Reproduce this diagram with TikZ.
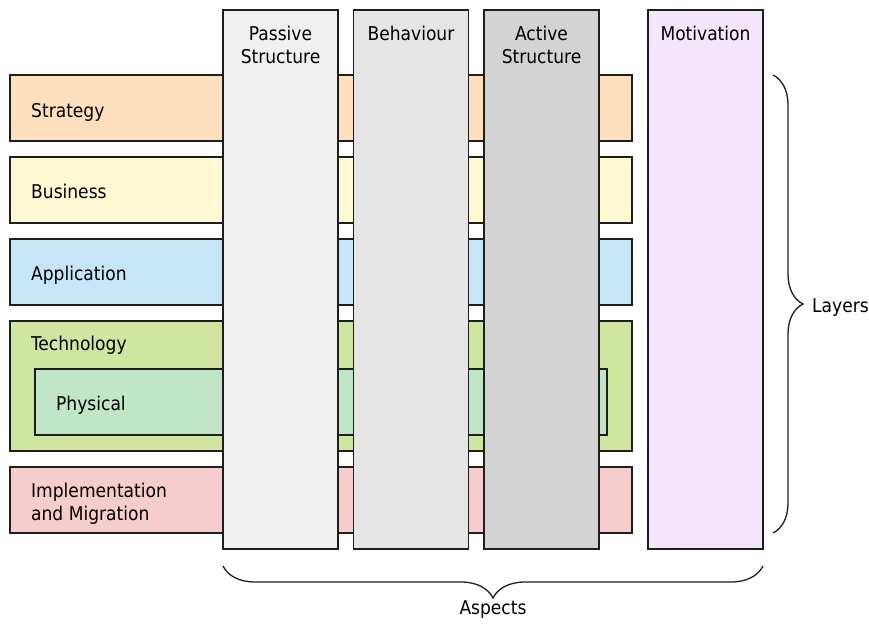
\documentclass[tikz,border=0pt]{standalone}
\usepackage{fontspec}
\setmainfont{DejaVu Sans Condensed}
\usetikzlibrary{decorations.pathreplacing}

\definecolor{edgegray}{RGB}{30,30,30}
\definecolor{strategyfill}{RGB}{253,223,189}
\definecolor{businessfill}{RGB}{255,249,211}
\definecolor{applicationfill}{RGB}{198,230,248}
\definecolor{technologyfill}{RGB}{208,230,160}
\definecolor{physicalfill}{RGB}{192,230,199}
\definecolor{implfill}{RGB}{246,204,204}
\definecolor{passivefill}{RGB}{240,240,240}
\definecolor{behaviourfill}{RGB}{229,229,229}
\definecolor{activefill}{RGB}{211,211,211}
\definecolor{motivfill}{RGB}{243,230,250}

\begin{document}
\begin{tikzpicture}
    [x=1pt, y=-1pt,
    box/.style={draw=edgegray, line width=1.3pt, anchor=north west,
      inner sep=0pt, outer sep=0pt},
    layer/.style={box, minimum width=622pt, minimum height=66pt},
    aspect/.style={box, minimum width=115pt, minimum height=539pt},
    lbl/.style={font=\fontsize{19}{23}\selectfont, inner sep=0pt,
      text=black},
    brc/.style={decorate, decoration={brace, amplitude=#1},
      line width=1.3pt, draw=edgegray}]
    \useasboundingbox (0,0) rectangle (869,625);
    \node[layer, fill=strategyfill] (strategy) at (10,75) {};
    \node[layer, fill=businessfill] (business) at (10,157) {};
    \node[layer, fill=applicationfill] (application) at (10,239) {};
    \node[layer, fill=technologyfill, minimum height=130pt] (technology) at (10,321) {};
    \node[box, fill=physicalfill, minimum width=572pt, minimum height=66pt] (physical) at (35,369) {};
    \node[layer, fill=implfill] (impl) at (10,467) {};
    \node[lbl, anchor=base west] (strategylbl) at (31,117) {Strategy};
    \node[lbl, anchor=base west] (businesslbl) at (31,198) {Business};
    \node[lbl, anchor=base west] (applicationlbl) at (31,280) {Application};
    \node[lbl, anchor=base west] (technologylbl) at (31,350) {Technology};
    \node[lbl, anchor=base west] (physicallbl) at (56,410) {Physical};
    \node[lbl, anchor=base west, align=left] (impllbl) at (31,520)
      {Implementation\\and Migration};
    \node[aspect, fill=passivefill] (passive) at (223,10) {};
    \node[aspect, fill=behaviourfill] (behaviour) at (353.5,10) {};
    \node[aspect, fill=activefill] (active) at (484,10) {};
    \node[aspect, fill=motivfill] (motiv) at (648,10) {};
    \node[lbl, anchor=base, align=center] (passivelbl) at (passive.north |- 0,63)
      {Passive\\Structure};
    \node[lbl, anchor=base] (behaviourlbl) at (behaviour.north |- 0,40) {Behaviour};
    \node[lbl, anchor=base, align=center] (activelbl) at (active.north |- 0,63)
      {Active\\Structure};
    \node[lbl, anchor=base] (motivlbl) at (motiv.north |- 0,40) {Motivation};
    \draw[brc=30] ([xshift=10pt]motiv.east |- strategy.north)
      -- ([xshift=10pt]motiv.east |- impl.south);
    \node[lbl, anchor=base west] (layerslbl) at (812,312) {Layers};
    \draw[brc=32] ([yshift=-17pt]motiv.south east)
      -- ([yshift=-17pt]passive.south west);
    \node[lbl, anchor=base] (aspectslbl) at (493,614) {Aspects};
\end{tikzpicture}
\end{document}
